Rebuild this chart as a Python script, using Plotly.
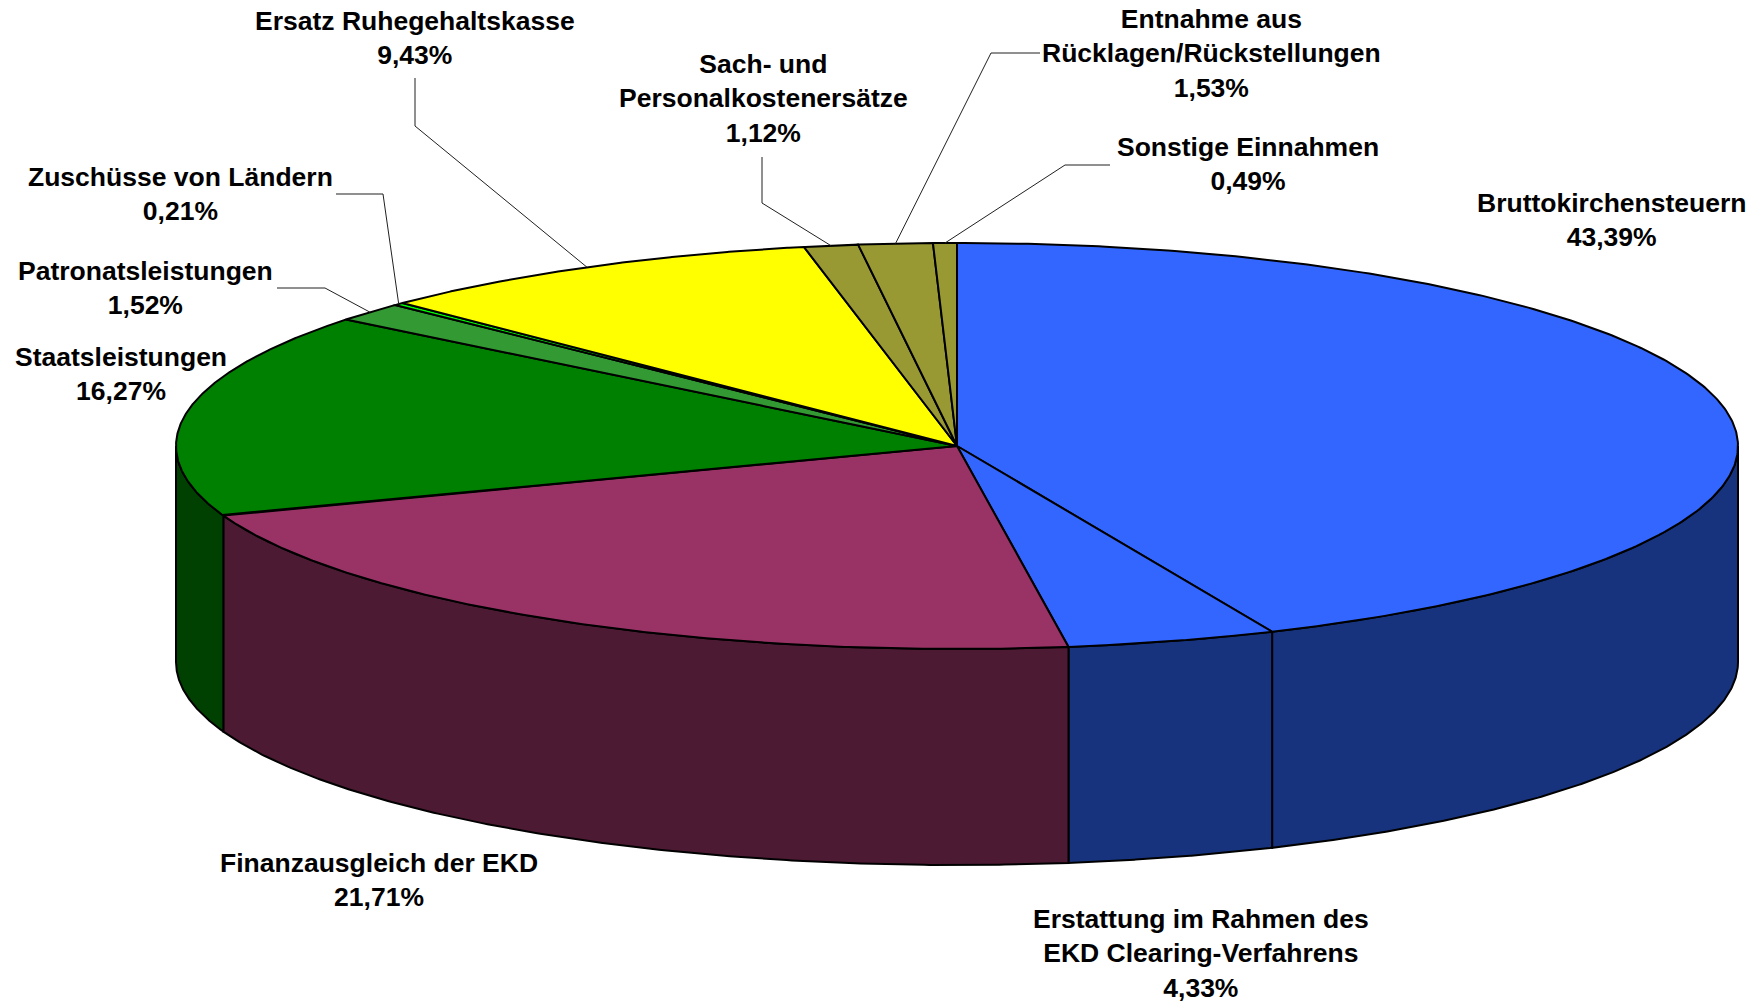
import numpy as np
import plotly.graph_objects as go

# ---------------- data ----------------
labels = [
    "Bruttokirchensteuern",
    "Erstattung im Rahmen des<br>EKD Clearing-Verfahrens",
    "Finanzausgleich der EKD",
    "Staatsleistungen",
    "Patronatsleistungen",
    "Zuschüsse von Ländern",
    "Ersatz Ruhegehaltskasse",
    "Sach- und<br>Personalkostenersätze",
    "Entnahme aus<br>Rücklagen/Rückstellungen",
    "Sonstige Einnahmen",
]
values = [43.39, 4.33, 21.71, 16.27, 1.52, 0.21, 9.43, 1.12, 1.53, 0.49]
value_text = ["43,39%", "4,33%", "21,71%", "16,27%", "1,52%", "0,21%", "9,43%", "1,12%", "1,53%", "0,49%"]

top_colors = ["#3366FF", "#3366FF", "#993366", "#008000", "#339933", "#00FF00",
              "#FFFF00", "#999933", "#999933", "#999933"]
side_colors = ["#17337D", "#17337D", "#4C1A33", "#004000", "#1A4D1A", "#008000",
               "#808000", "#4C4C1A", "#4C4C1A", "#4C4C1A"]

# ---------------- layout constants (pixel space) ----------------
W, H = 1758, 1005
CX, CY = 957, 446      # centre of top face
RX, RY = 781, 203      # ellipse radii
DEPTH = 216            # thickness of the pie

label_pos = [(1611, 220), (1201, 953), (379, 880), (121, 374), (145, 288),
             (180, 194), (415, 38), (763, 98), (1211, 53), (1248, 164)]
# leader line: start point and elbow (end point is computed on the rim)
leaders = {
    4: ((277, 288), (325, 288)),
    5: ((336, 194), (383, 194)),
    6: ((415, 78), (415, 126)),
    7: ((762, 157), (762, 203)),
    8: ((1040, 53), (991, 53)),
    9: ((1110, 165), (1065, 165)),
}


def rim(theta_deg, dy=0.0):
    t = np.radians(theta_deg)
    return CX + RX * np.sin(t), CY - RY * np.cos(t) + dy


total = sum(values)
bounds = np.concatenate([[0], np.cumsum(values)]) / total * 360.0

fig = go.Figure()

# side walls (visible front half: theta in [90, 270])
for i in range(len(values)):
    a0 = max(bounds[i], 90.0)
    a1 = min(bounds[i + 1], 270.0)
    if a0 >= a1:
        continue
    th = np.linspace(a0, a1, 200)
    xt, yt = rim(th)
    xb, yb = rim(th[::-1], DEPTH)
    xs = np.concatenate([xt, xb, [xt[0]]])
    ys = np.concatenate([yt, yb, [yt[0]]])
    fig.add_trace(go.Scatter(x=xs, y=ys, mode="lines", fill="toself",
                             fillcolor=side_colors[i],
                             line=dict(color="black", width=2),
                             hoverinfo="skip", showlegend=False))

# top faces
for i in range(len(values)):
    th = np.linspace(bounds[i], bounds[i + 1], 300)
    xa, ya = rim(th)
    xs = np.concatenate([[CX], xa, [CX]])
    ys = np.concatenate([[CY], ya, [CY]])
    fig.add_trace(go.Scatter(x=xs, y=ys, mode="lines", fill="toself",
                             fillcolor=top_colors[i],
                             line=dict(color="black", width=2),
                             hoverinfo="skip", showlegend=False))

# leader lines
for i, (p0, p1) in leaders.items():
    mid = (bounds[i] + bounds[i + 1]) / 2
    ex, ey = rim(mid)
    fig.add_trace(go.Scatter(x=[p0[0], p1[0], ex], y=[p0[1], p1[1], ey],
                             mode="lines", line=dict(color="#202020", width=1),
                             hoverinfo="skip", showlegend=False))

# labels
for i, lab in enumerate(labels):
    fig.add_annotation(x=label_pos[i][0], y=label_pos[i][1],
                       text=f"<b>{lab}<br>{value_text[i]}</b>",
                       showarrow=False, xanchor="center", yanchor="middle",
                       align="center",
                       font=dict(family="Liberation Sans, Arial, sans-serif",
                                 size=26.5, color="black"))

fig.update_layout(
    width=W, height=H,
    margin=dict(l=0, r=0, t=0, b=0),
    paper_bgcolor="white", plot_bgcolor="white",
    xaxis=dict(range=[0, W], visible=False, fixedrange=True),
    yaxis=dict(range=[H, 0], visible=False, fixedrange=True),
    showlegend=False,
)

fig.write_html(
    "out.html",
    config={"displayModeBar": False},
    post_script="document.body.style.margin='0';document.body.style.overflow='hidden';",
)
